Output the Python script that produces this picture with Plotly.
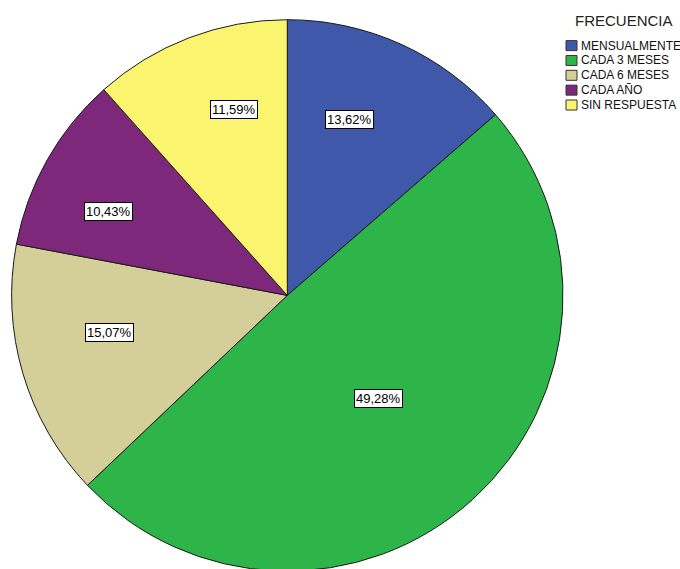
import math
import plotly.graph_objects as go

# Survey shares by purchase frequency
categories = ["MENSUALMENTE", "CADA 3 MESES", "CADA 6 MESES", "CADA AÑO", "SIN RESPUESTA"]
shares = [13.62, 49.28, 15.07, 10.43, 11.59]
colors = ["#3F58AA", "#2DB54A", "#D4CE98", "#7E287C", "#FBF46E"]
legend_title = "FRECUENCIA"

W, H = 680, 572
FONT = "Liberation Sans, Arial, sans-serif"

# Pie placement in pixels
cx, cy, R = 287.3, 295.4, 275.7

fig = go.Figure(
    go.Pie(
        labels=categories,
        values=shares,
        sort=False,
        direction="clockwise",
        rotation=0,
        marker=dict(colors=colors, line=dict(color="#1a1a1a", width=1)),
        textinfo="none",
        hoverinfo="label+percent",
        showlegend=False,
        domain=dict(x=[(cx - R) / W, (cx + R) / W], y=[(H - cy - R) / H, (H - cy + R) / H]),
    )
)

# Boxed percentage labels placed near each slice's mid-angle,
# nudged slightly toward the nearest axis
annotations = []
total = sum(shares)
acc = 0.0
for v in shares:
    mid = (acc + v / 2) / total * 2 * math.pi
    acc += v
    ang = mid - math.radians(5) * math.sin(4 * mid)
    frac = max(0.5, 0.84 - 0.012 * v)
    px = cx + frac * R * math.sin(ang)
    py = cy - frac * R * math.cos(ang)
    annotations.append(dict(
        x=px / W, y=1 - py / H, xref="paper", yref="paper",
        text=f"{v:.2f}".replace(".", ",") + "%",
        showarrow=False,
        font=dict(family=FONT, size=13, color="#000"),
        bgcolor="#ffffff", bordercolor="#000000", borderwidth=1, borderpad=1,
        xanchor="center", yanchor="middle",
    ))

# Legend drawn as swatches and labels
shapes = []
annotations.append(dict(
    x=573 / W, y=1 - 20 / H, xref="paper", yref="paper",
    text=legend_title, showarrow=False, xanchor="left", yanchor="middle",
    font=dict(family=FONT, size=15, color="#222"),
))
row0, step = 45.6, 14.85
for i, (name, col) in enumerate(zip(categories, colors)):
    yc = row0 + i * step
    shapes.append(dict(
        type="rect", xref="paper", yref="paper",
        x0=566 / W, x1=577 / W, y0=1 - (yc - 5) / H, y1=1 - (yc + 5) / H,
        fillcolor=col, line=dict(color="#333", width=1),
    ))
    annotations.append(dict(
        x=579 / W, y=1 - yc / H, xref="paper", yref="paper",
        text=name, showarrow=False, xanchor="left", yanchor="middle",
        font=dict(family=FONT, size=12, color="#111"),
    ))

fig.update_layout(
    width=W, height=H,
    margin=dict(l=0, r=0, t=0, b=0),
    paper_bgcolor="#ffffff", plot_bgcolor="#ffffff",
    annotations=annotations, shapes=shapes,
)

fig.write_html(
    "out.html",
    post_script="document.documentElement.style.overflow='hidden';document.body.style.overflow='hidden';document.body.style.margin='0';",
)
